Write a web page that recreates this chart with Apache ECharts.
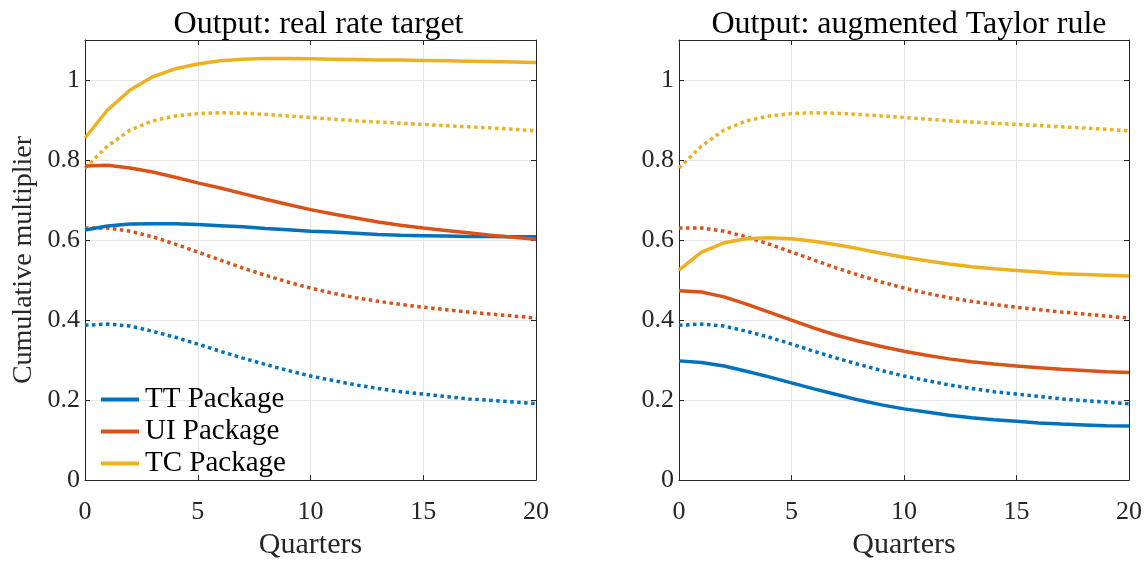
<!DOCTYPE html>
<html>
<head>
<meta charset="utf-8">
<script src="https://cdn.jsdelivr.net/npm/echarts@6/dist/echarts.min.js"></script>
<style>html,body{margin:0;padding:0;background:#fff}#c{width:1148px;height:565px}</style>
</head>
<body>
<div id="c"></div>
<script>
const quarters = [0,1,2,3,4,5,6,7,8,9,10,11,12,13,14,15,16,17,18,19,20];
const titles = ['Output: real rate target', 'Output: augmented Taylor rule'];
const seriesNames = ['TT Package', 'UI Package', 'TC Package'];
const yTicks = [0, 0.2, 0.4, 0.6, 0.8, 1];
const xTicks = [0, 5, 10, 15, 20];

// Left panel: real rate target (solid)
const rrTT = [0.625,0.635,0.640,0.641,0.641,0.639,0.636,0.633,0.629,0.626,0.622,0.620,0.617,0.614,0.612,0.611,0.610,0.609,0.609,0.608,0.608];
const rrUI = [0.785,0.787,0.780,0.770,0.757,0.743,0.730,0.716,0.702,0.689,0.676,0.665,0.655,0.645,0.637,0.630,0.624,0.618,0.612,0.607,0.602];
const rrTC = [0.855,0.925,0.975,1.008,1.028,1.040,1.048,1.052,1.054,1.054,1.053,1.052,1.051,1.050,1.050,1.049,1.048,1.047,1.046,1.045,1.044];
// Dotted (same in both panels)
const dotTT = [0.387,0.390,0.385,0.372,0.357,0.340,0.322,0.305,0.289,0.274,0.260,0.249,0.238,0.229,0.221,0.215,0.209,0.203,0.199,0.195,0.191];
const dotUI = [0.630,0.630,0.622,0.608,0.590,0.570,0.550,0.530,0.512,0.495,0.480,0.467,0.456,0.447,0.439,0.432,0.426,0.420,0.415,0.410,0.405];
const dotTC = [0.780,0.835,0.875,0.898,0.910,0.916,0.918,0.917,0.914,0.910,0.906,0.902,0.898,0.895,0.892,0.889,0.886,0.883,0.880,0.877,0.873];
// Right panel: augmented Taylor rule (solid)
const atTT = [0.298,0.294,0.285,0.272,0.258,0.243,0.228,0.214,0.200,0.188,0.178,0.170,0.162,0.156,0.151,0.147,0.143,0.140,0.138,0.136,0.135];
const atUI = [0.473,0.470,0.458,0.440,0.420,0.400,0.380,0.362,0.347,0.334,0.322,0.312,0.303,0.296,0.290,0.285,0.281,0.277,0.274,0.271,0.269];
const atTC = [0.525,0.570,0.593,0.603,0.606,0.603,0.597,0.588,0.578,0.567,0.557,0.548,0.540,0.533,0.528,0.524,0.520,0.516,0.514,0.512,0.510];

const colors = ['#0072BD', '#D95319', '#EDB120'];
const FONT = 'Liberation Serif';
const pair = arr => quarters.map((q, i) => [q, arr[i]]);

const grids = [
  {left: 85, top: 40, width: 451, height: 451},
  {left: 679, top: 40, width: 450, height: 451}
];

function xAx(gi, pos) {
  const main = pos === 'bottom';
  return {
    type: 'value', gridIndex: gi, position: pos, min: 0, max: 20, interval: 5,
    axisLine: {show: true, onZero: false, lineStyle: {color: '#262626', width: 1}},
    axisTick: {show: true, inside: true, length: 5, lineStyle: {color: '#262626'}},
    axisLabel: {show: main, fontFamily: FONT, fontSize: 26, color: '#262626', margin: 19},
    splitLine: {show: main, lineStyle: {color: '#e5e5e5', width: 1}},
    name: main ? 'Quarters' : '', nameLocation: 'middle', nameGap: 47,
    nameTextStyle: {fontFamily: FONT, fontSize: 30, color: '#262626'}
  };
}
function yAx(gi, pos) {
  const main = pos === 'left';
  return {
    type: 'value', gridIndex: gi, position: pos, min: 0, max: 1.1, interval: 0.2,
    axisLine: {show: true, onZero: false, lineStyle: {color: '#262626', width: 1}},
    axisTick: {show: true, inside: true, length: 5, lineStyle: {color: '#262626'}},
    axisLabel: {show: main, fontFamily: FONT, fontSize: 26, color: '#262626', margin: 5, showMaxLabel: false,
      formatter: v => (yTicks.some(t => Math.abs(t - v) < 1e-9) ? String(+v.toFixed(1)) : '')},
    splitLine: {show: main, lineStyle: {color: '#e5e5e5', width: 1}},
    name: (main && gi === 0) ? 'Cumulative multiplier' : '', nameLocation: 'middle', nameGap: 47,
    nameTextStyle: {fontFamily: FONT, fontSize: 28, color: '#262626'}
  };
}

function line(name, data, color, gi, dotted) {
  return {
    name: name, type: 'line', xAxisIndex: gi * 2, yAxisIndex: gi * 2,
    data: pair(data), showSymbol: false, symbol: 'none', smooth: false,
    lineStyle: {color: color, width: 3.5, type: dotted ? [3.5, 3.5] : 'solid', cap: 'butt'},
    itemStyle: {color: color}, z: dotted ? 2 : 3, animation: false
  };
}

const series = [
  line('TT Package', rrTT, colors[0], 0, false),
  line('UI Package', rrUI, colors[1], 0, false),
  line('TC Package', rrTC, colors[2], 0, false),
  line('TT dotted L', dotTT, colors[0], 0, true),
  line('UI dotted L', dotUI, colors[1], 0, true),
  line('TC dotted L', dotTC, colors[2], 0, true),
  line('TT right', atTT, colors[0], 1, false),
  line('UI right', atUI, colors[1], 1, false),
  line('TC right', atTC, colors[2], 1, false),
  line('TT dotted R', dotTT, colors[0], 1, true),
  line('UI dotted R', dotUI, colors[1], 1, true),
  line('TC dotted R', dotTC, colors[2], 1, true)
];

const chart = echarts.init(document.getElementById('c'), null, {renderer: 'canvas'});
chart.setOption({
  animation: false,
  backgroundColor: '#ffffff',
  title: [
    {text: titles[0], left: 85 + 451 / 2 + 3, top: 4, textAlign: 'center',
     textStyle: {fontFamily: FONT, fontSize: 32, fontWeight: 'normal', color: '#000'}},
    {text: titles[1], left: 679 + 450 / 2, top: 4, textAlign: 'center',
     textStyle: {fontFamily: FONT, fontSize: 32, fontWeight: 'normal', color: '#000'}}
  ],
  legend: {
    data: seriesNames, orient: 'vertical', left: 96, top: 380,
    itemWidth: 38, itemHeight: 4, itemGap: 3, icon: 'rect',
    textStyle: {fontFamily: FONT, fontSize: 29, color: '#000', padding: [0, 0, 0, 1]},
    selectedMode: false
  },
  grid: grids,
  xAxis: [xAx(0, 'bottom'), xAx(0, 'top'), xAx(1, 'bottom'), xAx(1, 'top')],
  yAxis: [yAx(0, 'left'), yAx(0, 'right'), yAx(1, 'left'), yAx(1, 'right')],
  series: series
});
</script>
</body>
</html>
